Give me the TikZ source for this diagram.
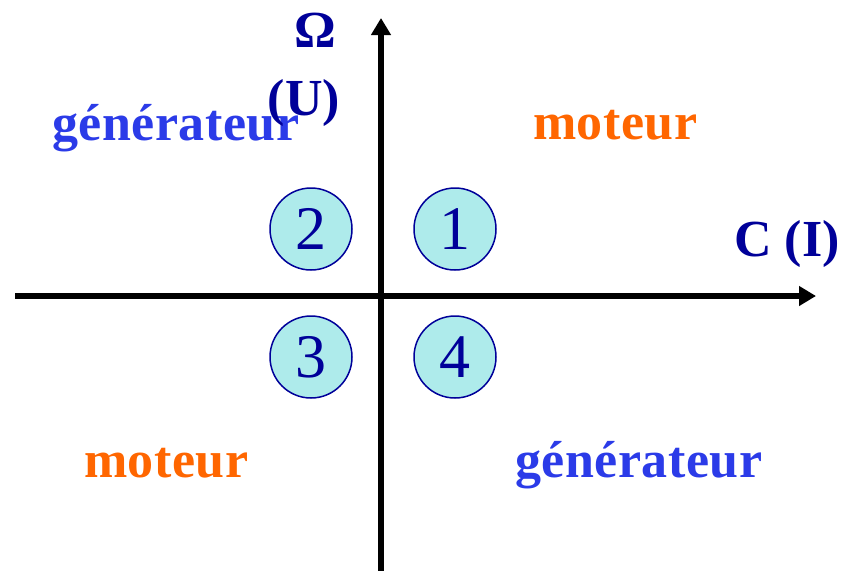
\documentclass[tikz,border=0pt]{standalone}
\usepackage{fontspec}
\setmainfont{Liberation Serif}
\usetikzlibrary{arrows.meta}
\definecolor{dkblue}{HTML}{000099}
\definecolor{genblue}{HTML}{2B3BE8}
\definecolor{motorange}{HTML}{FF6600}
\definecolor{cyanfill}{HTML}{AEEBEB}
\tikzset{
  lbl/.style={inner sep=0pt, anchor=base west, font=\fontsize{52}{60}\selectfont\bfseries\addfontfeature{LetterSpace=1}},
  axislbl/.style={inner sep=0pt, anchor=base, text=dkblue, font=\fontsize{52}{60}\selectfont\bfseries},
  quad/.style={circle, draw=dkblue, line width=1.5pt, fill=cyanfill, minimum size=82pt, inner sep=0pt, text=dkblue, font=\fontsize{62}{70}\selectfont},
  axis/.style={line width=5.5pt, -{Triangle[length=17pt,width=19pt]}}
}
\begin{document}
\begin{tikzpicture}[x=1pt,y=-1pt]
\useasboundingbox (0,0) rectangle (842,570);
\coordinate (vbot) at (381,580);
\coordinate (vtop) at (381,18);
\coordinate (hleft) at (15,296);
\coordinate (hright) at (816,296);
\draw[axis] (vbot) -- (vtop);
\draw[axis] (hleft) -- (hright);
\node[quad] (q2) at (311,229) {2};
\node[quad] (q1) at (455,229) {1};
\node[quad] (q3) at (311,357) {3};
\node[quad] (q4) at (455,357) {4};
\node[lbl, text=genblue] (gen1) at (52,140) {générateur};
\node[lbl, text=motorange] (mot1) at (533,139) {moteur};
\node[lbl, text=motorange] (mot2) at (84,477) {moteur};
\node[lbl, text=genblue] (gen2) at (515,477) {générateur};
\node[axislbl] (omega) at (315,47) {Ω};
\node[axislbl] (u) at (304,115) {(U)};
\node[axislbl, anchor=base east] (ci) at (840,256) {C (I)};
\end{tikzpicture}
\end{document}
